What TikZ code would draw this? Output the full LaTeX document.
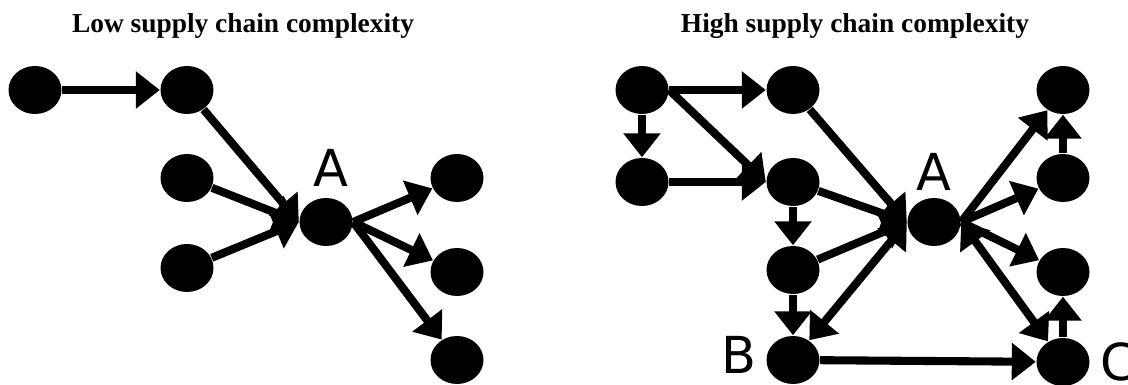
\documentclass[tikz,border=0pt]{standalone}
\usepackage{fontspec}
\usepackage{tikz}
\usetikzlibrary{arrows.meta,shapes.geometric}
\newfontfamily\titlefont{Liberation Serif}
\newfontfamily\letterfont{DejaVu Sans}

\begin{document}
\begin{tikzpicture}[
  firm/.style={ellipse, fill=black, inner sep=0pt, minimum width=0.53cm, minimum height=0.48cm},
  flow/.style={line width=2.3pt, -{Triangle[length=2.4mm, width=3.6mm]}},
  twoway/.style={line width=2.3pt, {Triangle[length=2.4mm, width=3.6mm]}-{Triangle[length=2.4mm, width=3.6mm]}},
  heading/.style={font=\titlefont\bfseries\fontsize{7.8}{9}\selectfont, anchor=base},
  letter/.style={font=\letterfont\fontsize{14.5}{16}\selectfont, inner sep=0pt}
]
\useasboundingbox (0,0) rectangle (11.28,-3.85);

% Low complexity
\node[heading] (tlow) at (2.43,-0.33) {Low supply chain complexity};
\node[firm] (l1) at (0.35,-0.90) {};
\node[firm] (l2) at (1.87,-0.90) {};
\node[firm] (l3) at (1.87,-1.78) {};
\node[firm] (l4) at (1.87,-2.68) {};
\node[firm] (la) at (3.26,-2.22) {};
\node[firm] (l5) at (4.57,-1.78) {};
\node[firm] (l6) at (4.57,-2.72) {};
\node[firm] (l7) at (4.57,-3.60) {};
\node[letter] (lalab) at (3.31,-1.68) {A};

\draw[flow] (l1) -- (l2);
\draw[flow] (l2) -- (la.west);
\draw[flow] (l3) -- (la.west);
\draw[flow] (l4) -- (la.west);
\draw[flow] (la.east) -- (l5);
\draw[flow] (la.east) -- (l6);
\draw[flow] (la.east) -- (l7);

% High complexity
\node[heading] (thigh) at (8.55,-0.33) {High supply chain complexity};
\node[firm] (r1) at (6.42,-0.90) {};
\node[firm] (r2) at (7.93,-0.90) {};
\node[firm] (r3) at (6.42,-1.82) {};
\node[firm] (r4) at (7.93,-1.82) {};
\node[firm] (ra) at (9.34,-2.22) {};
\node[firm] (r5) at (7.93,-2.70) {};
\node[firm] (rb) at (7.93,-3.60) {};
\node[firm] (r6) at (10.63,-0.90) {};
\node[firm] (r7) at (10.63,-1.78) {};
\node[firm] (r8) at (10.63,-2.72) {};
\node[firm] (rc) at (10.63,-3.62) {};
\node[letter] (ralab) at (9.34,-1.72) {A};
\node[letter, anchor=east] (rblab) at (7.57,-3.55) {B};
\node[letter, anchor=west] (rclab) at (11.00,-3.62) {C};

\draw[flow] (r1) -- (r2);
\draw[flow] (r1) -- (r3);
\draw[flow] (r1.east) -- (r4.west);
\draw[flow] (r3) -- (r4);
\draw[flow] (r2) -- (ra.west);
\draw[flow] (r4) -- (ra.west);
\draw[flow] (r4) -- (r5);
\draw[flow] (r5) -- (ra.west);
\draw[flow] (r5) -- (rb);
\draw[twoway] (ra.west) -- (rb);
\draw[twoway] (ra.east) -- (rc);
\draw[flow] (rb) -- (rc);
\draw[flow] (ra.east) -- (r6);
\draw[flow] (ra.east) -- (r7);
\draw[flow] (ra.east) -- (r8);
\draw[flow] (r7) -- (r6);
\draw[flow] (rc) -- (r8);
\end{tikzpicture}
\end{document}
